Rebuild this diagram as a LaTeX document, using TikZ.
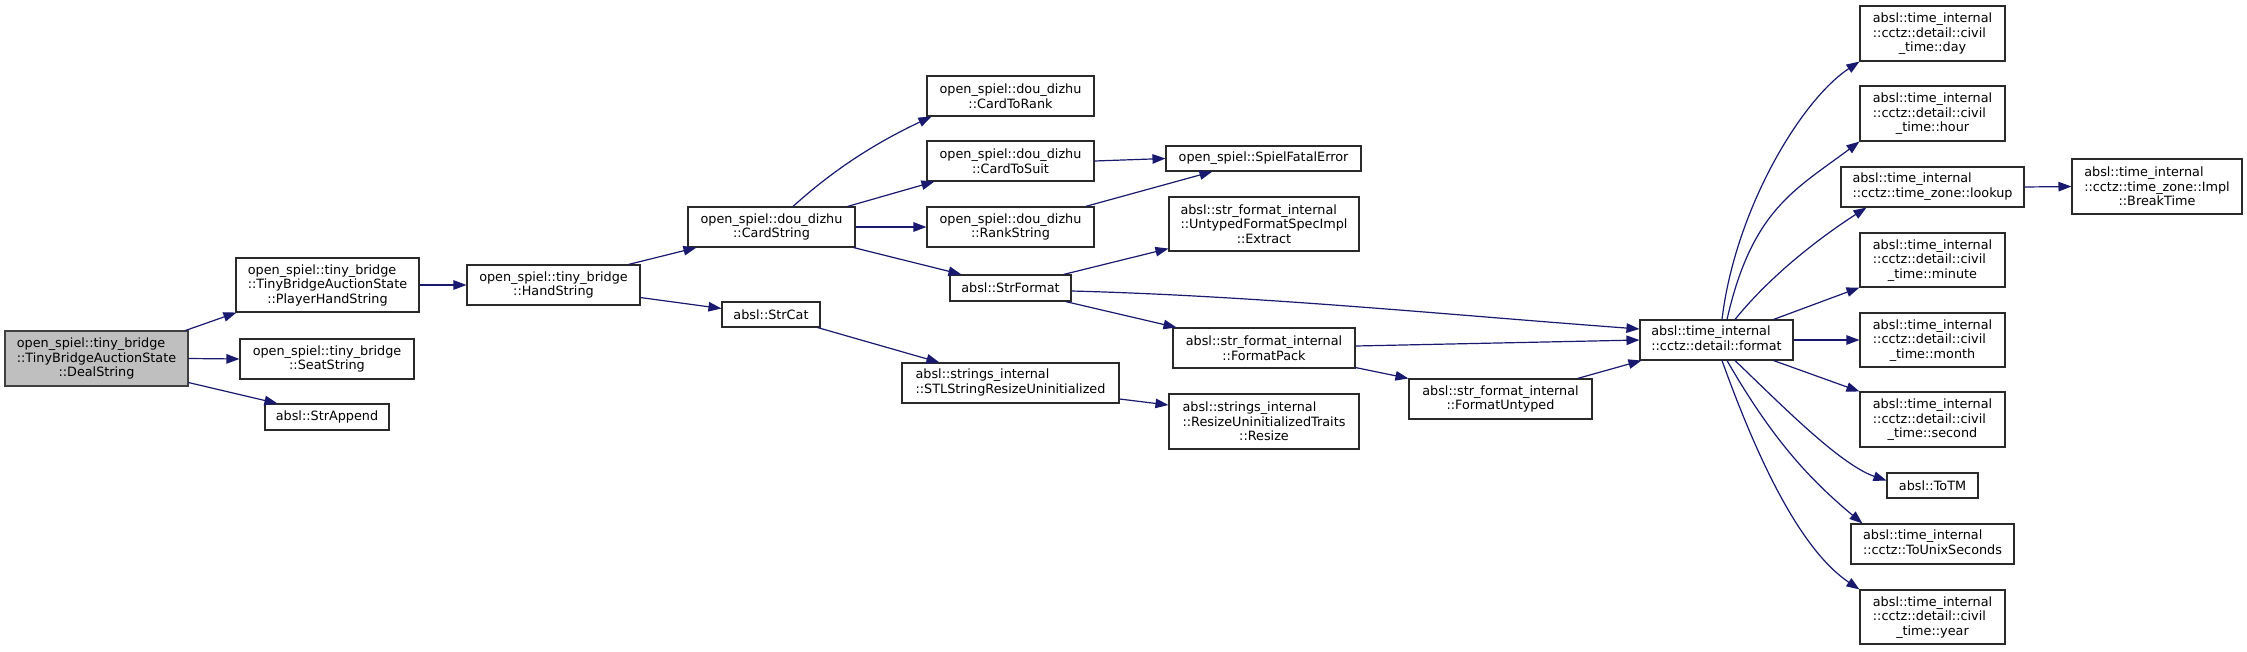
\documentclass[tikz,border=0pt]{standalone}
\usepackage{fontspec}
\setmainfont{DejaVu Sans}
\usetikzlibrary{arrows.meta}
\definecolor{edgec}{HTML}{191970}
\definecolor{rootfill}{HTML}{BFBFBF}
\definecolor{boxc}{HTML}{2A2A2A}
\newcommand\lp[2]{\begin{tabular}[b]{@{}l@{}}#1\\#2\end{tabular}}
\begin{document}
\begin{tikzpicture}[x=1pt,y=-1pt,
  fn/.style={draw=boxc, line width=1.1pt, fill=white, inner sep=0pt, align=center,
    font=\fontsize{12.8}{14.5}\selectfont, text=black},
  root/.style={fn, fill=rootfill, draw=black!75},
  cx/.style={draw=edgec, line width=1.2pt, -{Triangle[length=13pt,width=9.5pt]}}]
\path[use as bounding box, fill=white] (0,0) rectangle (2247,651);

\node[root, minimum width=183pt, minimum height=55pt] (deal) at (96.5,358.5) {\lp{open\_spiel::tiny\_bridge}{::TinyBridgeAuctionState}\\::DealString};
\node[fn, minimum width=183pt, minimum height=54pt] (phs) at (327.5,285) {\lp{open\_spiel::tiny\_bridge}{::TinyBridgeAuctionState}\\::PlayerHandString};
\node[fn, minimum width=174pt, minimum height=40pt] (seat) at (327,359) {open\_spiel::tiny\_bridge\\::SeatString};
\node[fn, minimum width=124pt, minimum height=26pt] (sapp) at (327,417) {absl::StrAppend};
\node[fn, minimum width=173pt, minimum height=40pt] (hand) at (553.5,285) {open\_spiel::tiny\_bridge\\::HandString};
\node[fn, minimum width=167pt, minimum height=40pt] (card) at (771.5,227) {open\_spiel::dou\_dizhu\\::CardString};
\node[fn, minimum width=98pt, minimum height=25pt] (strcat) at (771,314.5) {absl::StrCat};
\node[fn, minimum width=167pt, minimum height=40pt] (c2rank) at (1010.5,96) {open\_spiel::dou\_dizhu\\::CardToRank};
\node[fn, minimum width=167pt, minimum height=40pt] (c2suit) at (1010.5,161) {open\_spiel::dou\_dizhu\\::CardToSuit};
\node[fn, minimum width=167pt, minimum height=40pt] (rankstr) at (1010.5,227) {open\_spiel::dou\_dizhu\\::RankString};
\node[fn, minimum width=121pt, minimum height=26pt] (strfmt) at (1010.5,288) {absl::StrFormat};
\node[fn, minimum width=217pt, minimum height=40pt] (stl) at (1010.5,383) {\lp{absl::strings\_internal}{::STLStringResizeUninitialized}};
\node[fn, minimum width=195pt, minimum height=25pt] (sfe) at (1263.5,158.5) {open\_spiel::SpielFatalError};
\node[fn, minimum width=190pt, minimum height=54pt] (extract) at (1264,224) {\lp{absl::str\_format\_internal}{::UntypedFormatSpecImpl}\\::Extract};
\node[fn, minimum width=182pt, minimum height=40pt] (fpack) at (1264,348) {absl::str\_format\_internal\\::FormatPack};
\node[fn, minimum width=190pt, minimum height=55pt] (resize) at (1264,421.5) {\lp{absl::strings\_internal}{::ResizeUninitializedTraits}\\::Resize};
\node[fn, minimum width=183pt, minimum height=40pt] (funtyped) at (1500.5,399) {absl::str\_format\_internal\\::FormatUntyped};
\node[fn, minimum width=153pt, minimum height=40pt] (format) at (1716.5,340) {\lp{absl::time\_internal}{::cctz::detail::format}};
\node[fn, minimum width=145pt, minimum height=55pt] (day) at (1932.5,33.5) {\lp{absl::time\_internal}{::cctz::detail::civil}\\\_time::day};
\node[fn, minimum width=145pt, minimum height=55pt] (hour) at (1932.5,113.5) {\lp{absl::time\_internal}{::cctz::detail::civil}\\\_time::hour};
\node[fn, minimum width=183pt, minimum height=40pt] (lookup) at (1932.5,187) {\lp{absl::time\_internal}{::cctz::time\_zone::lookup}};
\node[fn, minimum width=145pt, minimum height=54pt] (minute) at (1932.5,260) {\lp{absl::time\_internal}{::cctz::detail::civil}\\\_time::minute};
\node[fn, minimum width=145pt, minimum height=54pt] (month) at (1932.5,340) {\lp{absl::time\_internal}{::cctz::detail::civil}\\\_time::month};
\node[fn, minimum width=145pt, minimum height=55pt] (second) at (1932.5,419.5) {\lp{absl::time\_internal}{::cctz::detail::civil}\\\_time::second};
\node[fn, minimum width=91pt, minimum height=25pt] (totm) at (1932.5,485.5) {absl::ToTM};
\node[fn, minimum width=163pt, minimum height=40pt] (tounix) at (1932.5,544) {\lp{absl::time\_internal}{::cctz::ToUnixSeconds}};
\node[fn, minimum width=145pt, minimum height=54pt] (year) at (1932.5,617) {\lp{absl::time\_internal}{::cctz::detail::civil}\\\_time::year};
\node[fn, minimum width=170pt, minimum height=55pt] (breaktime) at (2157,186.5) {\lp{absl::time\_internal}{::cctz::time\_zone::Impl}\\::BreakTime};

\draw[cx] ([xshift=-3pt]deal.north east) -- ([xshift=1pt]phs.south west);
\draw[cx] (deal.east) -- (seat.west);
\draw[cx] ([yshift=4pt]deal.south east) -- ([xshift=13pt]sapp.north west);
\draw[cx] (phs.east) -- (hand.west);
\draw[cx] ([xshift=-12pt]hand.north east) -- ([xshift=9pt]card.south west);
\draw[cx] ([yshift=8pt]hand.south east) -- ([yshift=6pt]strcat.west);
\draw[cx] ([xshift=21.5pt]card.north) .. controls +(43,-39) and +(-53,25) .. ([xshift=5pt]c2rank.south west);
\draw[cx] ([xshift=-8pt]card.north east) -- ([xshift=8pt]c2suit.south west);
\draw[cx] (card.east) -- (rankstr.west);
\draw[cx] ([xshift=-2pt]card.south east) -- ([xshift=12pt]strfmt.north west);
\draw[cx] (c2suit.east) -- (sfe.west);
\draw[cx] ([xshift=-9pt]rankstr.north east) -- ([xshift=47pt]sfe.south west);
\draw[cx] ([xshift=-8pt]strfmt.north east) -- ([yshift=3pt]extract.south west);
\draw[cx] ([yshift=-3pt]strfmt.east) .. controls +(190,5) and +(-190,-14) .. ([yshift=11pt]format.west);
\draw[cx] ([xshift=-6pt]strfmt.south east) -- ([xshift=4pt]fpack.north west);
\draw[cx] ([xshift=-3pt]strcat.south east) -- ([xshift=38pt]stl.north west);
\draw[cx] ([yshift=-16pt]stl.east) -- ([yshift=16.5pt]resize.west);
\draw[cx] ([yshift=2pt]fpack.east) -- (format.west);
\draw[cx] ([yshift=1pt]fpack.south east) -- (funtyped.north west);
\draw[cx] ([xshift=-15pt]funtyped.north east) -- ([xshift=2pt]format.south west);
\draw[cx] ([xshift=5.5pt]format.north) .. controls +(13,-109) and +(-59,39) .. (day.south west);
\draw[cx] ([xshift=10.5pt]format.north) .. controls +(25,-110) and +(-64,48) .. (hour.south west);
\draw[cx] ([xshift=18.5pt]format.north) .. controls +(38,-47) and +(-42,27) .. ([xshift=26pt]lookup.south west);
\draw[cx] ([xshift=-20pt]format.north east) -- (minute.south west);
\draw[cx] (format.east) -- (month.west);
\draw[cx] ([xshift=-20pt]format.south east) -- (second.north west);
\draw[cx] ([xshift=18.5pt]format.south) .. controls +(43,41) and +(-47,-16) .. ([yshift=5pt]totm.west);
\draw[cx] ([xshift=10.5pt]format.south) .. controls +(45,78) and +(-54,-45) .. ([xshift=12pt]tounix.north west);
\draw[cx] ([xshift=5.5pt]format.south) .. controls +(37,103) and +(-58,-39) .. (year.north west);
\draw[cx] (lookup.east) -- (breaktime.west);
\end{tikzpicture}
\end{document}
